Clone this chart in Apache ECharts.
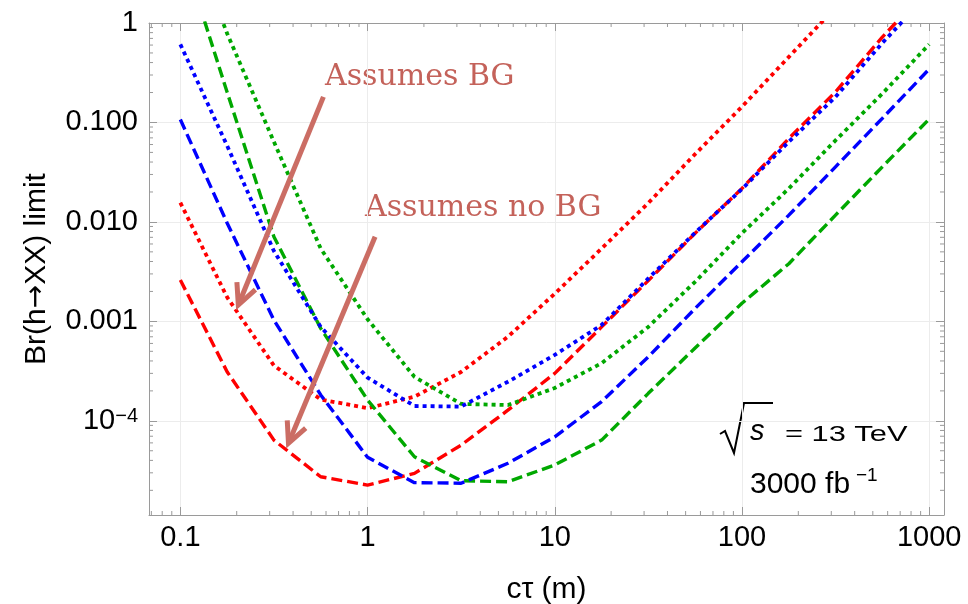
<!DOCTYPE html>
<html>
<head>
<meta charset="utf-8">
<script src="https://cdn.jsdelivr.net/npm/echarts@6/dist/echarts.min.js"></script>
<style>
html, body { margin: 0; padding: 0; background: #fff; }
#chart { width: 968px; height: 604px; }
</style>
</head>
<body>
<div id="chart"></div>
<script>
// c tau sample points (m)
var ctau = [0.1, 0.178, 0.316, 0.562, 1, 1.78, 3.16, 5.62, 10, 17.8, 31.6, 56.2, 100, 178, 316, 562, 1000];

// Br(h->XX) limits
var redDotted   = [0.0156, 1.74e-3, 3.6e-4, 1.64e-4, 1.34e-4, 1.75e-4, 3.1e-4, 7.0e-4, 1.9e-3, 5.4e-3, 0.0155, 0.048, 0.144, 0.456, 1.43, 4.5, 14];
var redDashed   = [2.6e-3, 3.1e-4, 6.4e-5, 2.74e-5, 2.26e-5, 2.96e-5, 5.7e-5, 1.28e-4, 3.0e-4, 8.8e-4, 2.57e-3, 7.7e-3, 0.0217, 0.069, 0.203, 0.72, 2.3];
var blueDotted  = [0.61, 0.058, 5.1e-3, 8.8e-4, 2.72e-4, 1.41e-4, 1.39e-4, 2.47e-4, 4.6e-4, 9.2e-4, 2.7e-3, 7.8e-3, 0.0214, 0.064, 0.181, 0.63, 2.0];
var blueDashed  = [0.107, 9.7e-3, 1.03e-3, 1.82e-4, 4.3e-5, 2.39e-5, 2.36e-5, 3.74e-5, 6.9e-5, 1.56e-4, 4.4e-4, 1.35e-3, 3.97e-3, 0.0117, 0.0358, 0.11, 0.344];
var greenDotted = [13, 0.78, 0.064, 5.4e-3, 1.05e-3, 2.77e-4, 1.48e-4, 1.44e-4, 2.14e-4, 3.8e-4, 8.8e-4, 2.5e-3, 7.7e-3, 0.0217, 0.066, 0.195, 0.61];
var greenDashed = [6.1, 0.2, 7.1e-3, 8.5e-4, 1.62e-4, 4.35e-5, 2.5e-5, 2.44e-5, 3.6e-5, 6.4e-5, 1.89e-4, 5.4e-4, 1.52e-3, 3.8e-3, 0.0117, 0.0358, 0.108];

// annotation arrows: [x start, y start, x tip, y tip]
var arrowBG   = [0.581, 0.181, 0.204, 1.46e-3];
var arrowNoBG = [1.097, 7.08e-3, 0.378, 5.94e-5];

// axes
var xMin = 0.068, xMax = 1200;
var yMin = 1.13e-5, yMax = 1;
var xTickValues = [0.1, 1, 10, 100, 1000];
var xTickLabels = ['0.1', '1', '10', '100', '1000'];
var yTickValues = [1e-4, 1e-3, 1e-2, 1e-1, 1];
var yTickLabels = ['{b|10}{s|\u22124}', '0.001', '0.010', '0.100', '1'];
var xDecades = [0.01, 0.1, 1, 10, 100, 1000];
var yDecades = [1e-6, 1e-5, 1e-4, 1e-3, 1e-2, 1e-1];
var minorMult = [2, 3, 4, 5, 6, 7, 8, 9];

var frameColor = '#9a9a9a';
var arrowColor = '#cb6d64';
var noteColor = '#c4625a';
var sans = '"Liberation Sans", Arial, sans-serif';

function minorTicks(decades, lo, hi) {
	var out = [];
	decades.forEach(function (d) {
		minorMult.forEach(function (m) {
			var v = d * m;
			if (v > lo && v < hi) out.push(v);
		});
	});
	return out;
}

function labelFor(values, labels) {
	return function (v) {
		for (var i = 0; i < values.length; i++) {
			if (Math.abs(Math.log10(v) - Math.log10(values[i])) < 1e-6) return labels[i];
		}
		return '';
	};
}

function pairs(ys) {
	return ctau.map(function (x, i) { return [x, ys[i]]; });
}

function curve(name, ys, color, dash, width) {
	return {
		name: name,
		type: 'line',
		data: pairs(ys),
		showSymbol: false,
		symbol: 'none',
		clip: true,
		lineStyle: { color: color, width: width, type: dash, cap: 'butt' },
		silent: true
	};
}

var dotted = [4, 4];
var dashed = [11, 5];

function renderXMinor(params, api) {
	var cs = params.coordSys;
	var x = api.coord([api.value(0), yMax])[0];
	var b = cs.y + cs.height;
	return {
		type: 'group',
		children: [
			{ type: 'line', shape: { x1: x, y1: b, x2: x, y2: b - 4 }, style: { stroke: frameColor, lineWidth: 1 } },
			{ type: 'line', shape: { x1: x, y1: cs.y, x2: x, y2: cs.y + 4 }, style: { stroke: frameColor, lineWidth: 1 } }
		]
	};
}

function renderYMinor(params, api) {
	var cs = params.coordSys;
	var y = api.coord([xMax, api.value(1)])[1];
	var r = cs.x + cs.width;
	return {
		type: 'group',
		children: [
			{ type: 'line', shape: { x1: cs.x, y1: y, x2: cs.x + 4, y2: y }, style: { stroke: frameColor, lineWidth: 1 } },
			{ type: 'line', shape: { x1: r, y1: y, x2: r - 4, y2: y }, style: { stroke: frameColor, lineWidth: 1 } }
		]
	};
}

function renderArrow(params, api) {
	var p1 = api.coord([api.value(0), api.value(1)]);
	var p2 = api.coord([api.value(2), api.value(3)]);
	var ang = Math.atan2(p1[1] - p2[1], p1[0] - p2[0]);
	var len = 23, spread = 0.45;
	var h1 = [p2[0] + len * Math.cos(ang + spread), p2[1] + len * Math.sin(ang + spread)];
	var h2 = [p2[0] + len * Math.cos(ang - spread), p2[1] + len * Math.sin(ang - spread)];
	var s = [p2[0] + 3 * Math.cos(ang), p2[1] + 3 * Math.sin(ang)];
	return {
		type: 'group',
		children: [
			{ type: 'line', shape: { x1: p1[0], y1: p1[1], x2: s[0], y2: s[1] }, style: { stroke: arrowColor, lineWidth: 5 } },
			{ type: 'polyline', shape: { points: [h1, p2, h2] }, style: { stroke: arrowColor, lineWidth: 5, fill: null, lineJoin: 'miter' } }
		]
	};
}

var xMinor = minorTicks(xDecades, xMin, xMax).map(function (v) { return [v, yMax]; });
var yMinor = minorTicks(yDecades, yMin, yMax).map(function (v) { return [xMax, v]; });

var chart = echarts.init(document.getElementById('chart'));

var frameAxis = {
	axisLine: { show: true, lineStyle: { color: frameColor, width: 1 } },
	axisTick: { show: true, inside: true, length: 8, lineStyle: { color: frameColor } }
};

var option = {
	animation: false,
	backgroundColor: '#fff',
	grid: { left: 149, top: 23, right: 24, bottom: 89, containLabel: false, outerBoundsMode: 'none' },
	xAxis: [{
		type: 'log', min: xMin, max: xMax, position: 'bottom',
		name: 'c\u03c4 (m)', nameLocation: 'middle', nameGap: 60,
		nameTextStyle: { fontFamily: sans, fontSize: 30, color: '#000' },
		axisLine: frameAxis.axisLine, axisTick: frameAxis.axisTick,
		axisLabel: { formatter: labelFor(xTickValues, xTickLabels), fontFamily: sans, fontSize: 29, color: '#000', margin: 8 },
		splitLine: { show: true, lineStyle: { color: '#ececec', width: 1 } }
	}, {
		type: 'log', min: xMin, max: xMax, position: 'top',
		axisLine: frameAxis.axisLine, axisTick: frameAxis.axisTick,
		axisLabel: { show: false }, splitLine: { show: false }
	}],
	yAxis: [{
		type: 'log', min: yMin, max: yMax, position: 'left',
		name: '{t|Br(h}{a|\u2192}{t|XX) limit}', nameLocation: 'middle', nameGap: 97,
		nameTextStyle: {
			fontFamily: sans, fontSize: 30, color: '#000',
			rich: {
				t: { fontFamily: sans, fontSize: 30, color: '#000' },
				a: { fontFamily: '"DejaVu Sans"', fontSize: 28, color: '#000' }
			}
		},
		axisLine: frameAxis.axisLine, axisTick: frameAxis.axisTick,
		axisLabel: {
			formatter: labelFor(yTickValues, yTickLabels), fontFamily: sans, fontSize: 29, color: '#000', margin: 11,
			rich: {
				b: { fontFamily: sans, fontSize: 29, color: '#000' },
				s: { fontFamily: sans, fontSize: 20, color: '#000', verticalAlign: 'top' }
			}
		},
		splitLine: { show: true, lineStyle: { color: '#ececec', width: 1 } }
	}, {
		type: 'log', min: yMin, max: yMax, position: 'right',
		axisLine: frameAxis.axisLine, axisTick: frameAxis.axisTick,
		axisLabel: { show: false }, splitLine: { show: false }
	}],
	series: [
		{ type: 'custom', renderItem: renderXMinor, data: xMinor, silent: true, clip: false, encode: { x: 0, y: 1 } },
		{ type: 'custom', renderItem: renderYMinor, data: yMinor, silent: true, clip: false, encode: { x: 0, y: 1 } },
		curve('red dotted', redDotted, '#ff0000', dotted, 3.8),
		curve('red dashed', redDashed, '#ff0000', dashed, 3.4),
		curve('green dotted', greenDotted, '#00a800', dotted, 3.8),
		curve('green dashed', greenDashed, '#00a800', dashed, 3.4),
		curve('blue dotted', blueDotted, '#0000ff', dotted, 3.8),
		curve('blue dashed', blueDashed, '#0000ff', dashed, 3.4),
		{ type: 'custom', renderItem: renderArrow, data: [arrowBG, arrowNoBG], silent: true, clip: false, encode: { x: [0, 2], y: [1, 3] }, z: 5 }
	],
	graphic: [
		{ type: 'text', x: 325, y: 77, style: { text: 'Assumes BG', font: '30px "DejaVu Serif"', fill: noteColor, verticalAlign: 'middle' } },
		{ type: 'text', x: 365, y: 208, style: { text: 'Assumes no BG', font: '30px "DejaVu Serif"', fill: noteColor, verticalAlign: 'middle' } },
		{ type: 'polyline', shape: { points: [[720, 434], [725, 431], [734, 453], [744, 403], [773, 403]] }, style: { stroke: '#000', lineWidth: 2, fill: null } },
		{ type: 'text', x: 750, y: 446, style: { text: 's', font: 'italic 29px ' + sans, fill: '#000', verticalAlign: 'bottom' } },
		{ type: 'text', x: 785, y: 446, scaleX: 1.4, style: { text: '= 13 TeV', font: '22px ' + sans, fill: '#000', verticalAlign: 'bottom' } },
		{ type: 'text', x: 750, y: 500, style: { text: '3000 fb', font: '30px ' + sans, fill: '#000', verticalAlign: 'bottom' } },
		{ type: 'text', x: 856, y: 466, style: { text: '\u22121', font: '19px ' + sans, fill: '#000', verticalAlign: 'top' } }
	]
};

chart.setOption(option);
</script>
</body>
</html>
